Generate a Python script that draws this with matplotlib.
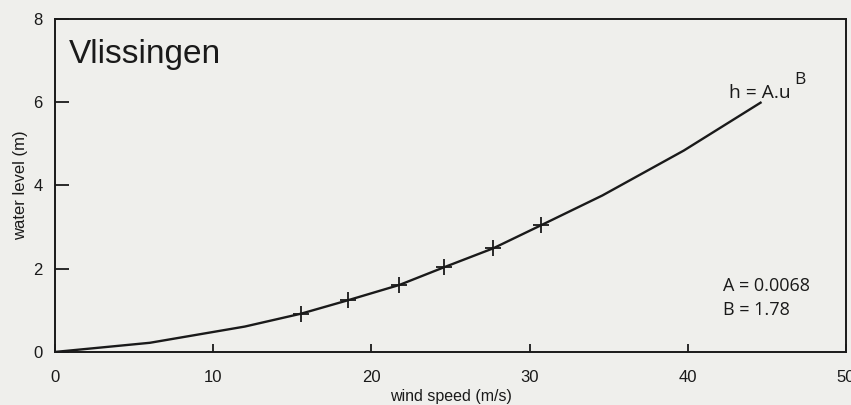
import matplotlib
matplotlib.use("Agg")
import matplotlib.pyplot as plt

# fitted curve h = A.u^B
wind_line = [0, 6.0, 12.0, 15.56, 18.5, 21.77, 24.56, 27.7, 30.7, 34.6, 39.75, 44.6]
level_line = [0, 0.22, 0.61, 0.92, 1.24, 1.61, 2.03, 2.49, 3.04, 3.76, 4.84, 5.99]

# observed points (crosses)
wind_obs = [15.56, 18.5, 21.77, 24.56, 27.7, 30.7]
level_obs = [0.92, 1.24, 1.61, 2.03, 2.49, 3.04]

xticks = [0, 10, 20, 30, 40, 50]
yticks = [0, 2, 4, 6, 8]

bg = "#efefec"
ink = "#1a1a1a"

plt.rcParams['font.family'] = ['Liberation Sans', 'DejaVu Sans']

fig = plt.figure(figsize=(8.51, 4.05), dpi=100)
fig.patch.set_facecolor(bg)
ax = fig.add_axes([0.0646, 0.131, 0.9295, 0.822])
ax.set_facecolor(bg)

ax.plot(wind_line, level_line, color=ink, lw=1.7, solid_joinstyle='miter')
ax.plot(wind_obs, level_obs, linestyle='none', marker='+', markersize=12,
        markeredgewidth=1.3, color=ink)

ax.set_xlim(0, 50)
ax.set_ylim(0, 8)
ax.set_xticks(xticks)
ax.set_yticks(yticks)
ax.tick_params(axis='x', direction='in', length=6, width=1.3, pad=13,
               labelsize=12, colors=ink)
ax.tick_params(axis='y', direction='in', length=10, width=1.3, pad=9,
               labelsize=12, colors=ink)
for s in ax.spines.values():
    s.set_linewidth(1.4)
    s.set_color(ink)

ax.set_xlabel("wind speed (m/s)", fontsize=11.5, color=ink, labelpad=3)
ax.set_ylabel("water level (m)", fontsize=12, color=ink, labelpad=4)

ax.text(0.9, 7.14, "Vlissingen", fontsize=24, color=ink, va='center', ha='left')
ax.text(42.6, 6.11, r"h = A.u", fontsize=13.8, color=ink, family='Open Sans',
        va='baseline', ha='left')
ax.text(46.7, 6.44, "B", fontsize=12.5, color=ink, family='Open Sans',
        va='baseline', ha='left')
ax.text(42.2, 1.59, "A = 0.0068", fontsize=13, color=ink, family='Open Sans',
        va='center', ha='left')
ax.text(42.2, 1.0, "B = 1.78", fontsize=13, color=ink, family='Open Sans',
        va='center', ha='left')

fig.savefig("out.png", dpi=100, facecolor=bg)
